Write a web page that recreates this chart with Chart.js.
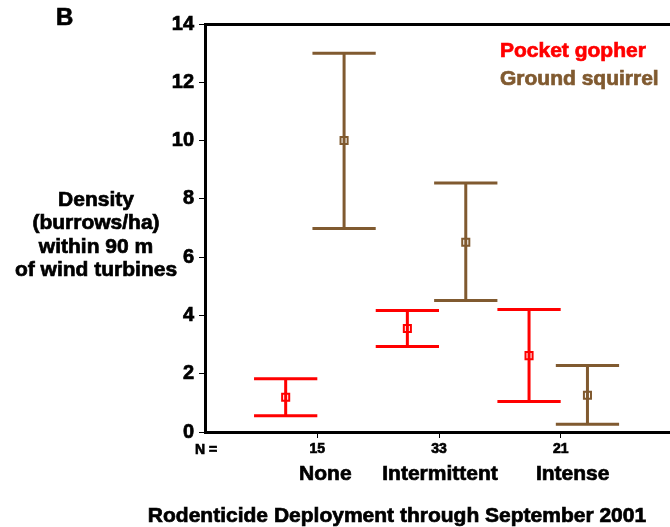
<!DOCTYPE html>
<html>
<head>
<meta charset="utf-8">
<script src="https://cdn.jsdelivr.net/npm/chart.js@4.4.1/dist/chart.umd.min.js"></script>
<style>
  html, body { margin: 0; padding: 0; background: #fff; overflow: hidden; }
  #wrap { width: 680px; height: 527px; }
</style>
</head>
<body>
<div id="wrap"><canvas id="chartId" width="680" height="527"></canvas></div>
<script>
// density of burrows per treatment

const categories = ['None', 'Intermittent', 'Intense'];
const sampleSizes = ['15', '33', '21'];
const yTicks = [0, 2, 4, 6, 8, 10, 12, 14];

const gopherMean = [1.19, 3.55, 2.62];
const gopherLow = [0.56, 2.93, 1.05];
const gopherHigh = [1.83, 4.17, 4.2];

const squirrelMean = [10.0, 6.51, 1.26];
const squirrelLow = [6.98, 4.51, 0.27];
const squirrelHigh = [13.0, 8.54, 2.28];

const RED = '#ff0000';
const BROWN = '#805a30';
const FONT = '"Liberation Sans", Arial, sans-serif';
const HEAVY = 0.7; // extra stroke so text looks as heavy as the original

// position of each group on the x scale (1, 2, 3) and series offsets
const groupPos = categories.map((c, i) => i + 1);
const gopherShift = -0.26;
const squirrelShift = 0.22;
const capHalf = 0.26;
const nameNudge = [8, 1, 12];

const points = (mean, low, high, shift) =>
  mean.map((m, i) => ({ x: groupPos[i] + shift, y: m, low: low[i], high: high[i] }));

const errorBars = {
  id: 'errorBars',
  beforeDatasetsDraw(chart) {
    const ctx = chart.ctx;
    const xs = chart.scales.x, ys = chart.scales.y;
    chart.data.datasets.forEach(ds => {
      ctx.save();
      ctx.strokeStyle = ds.borderColor;
      ctx.lineWidth = 3;
      ds.data.forEach(p => {
        const px = xs.getPixelForValue(p.x);
        const x0 = xs.getPixelForValue(p.x - capHalf);
        const x1 = xs.getPixelForValue(p.x + capHalf);
        const yl = ys.getPixelForValue(p.low);
        const yh = ys.getPixelForValue(p.high);
        ctx.beginPath();
        ctx.moveTo(px, yl); ctx.lineTo(px, yh);
        ctx.moveTo(x0, yl); ctx.lineTo(x1, yl);
        ctx.moveTo(x0, yh); ctx.lineTo(x1, yh);
        ctx.stroke();
      });
      ctx.restore();
    });
  }
};

function heavyText(ctx, t, x, y) {
  ctx.strokeStyle = ctx.fillStyle;
  ctx.lineWidth = HEAVY;
  ctx.strokeText(t, x, y);
  ctx.fillText(t, x, y);
}

const labels = {
  id: 'labels',
  afterDraw(chart) {
    const ctx = chart.ctx;
    const xs = chart.scales.x;
    const area = chart.chartArea;
    ctx.save();
    ctx.fillStyle = '#000';
    ctx.textBaseline = 'middle';

    ctx.textAlign = 'left';
    ctx.font = 'bold 24px ' + FONT;
    heavyText(ctx, 'B', 56, 18);

    // y axis title, horizontal
    ctx.textAlign = 'center';
    ctx.font = 'bold 21px ' + FONT;
    ['Density', '(burrows/ha)', 'within 90 m', 'of wind turbines'].forEach((t, i) => {
      heavyText(ctx, t, 96, 200 + i * 23.5);
    });

    // sample sizes row
    ctx.font = 'bold 14px ' + FONT;
    ctx.textAlign = 'left';
    heavyText(ctx, 'N =', 195, area.bottom + 18);

    // category names
    ctx.font = 'bold 21px ' + FONT;
    ctx.textAlign = 'center';
    categories.forEach((c, i) => {
      heavyText(ctx, c, xs.getPixelForValue(groupPos[i]) + nameNudge[i], area.bottom + 42);
    });

    ctx.font = 'bold 21px ' + FONT;
    heavyText(ctx, 'Rodenticide Deployment through September 2001', 397, area.bottom + 84);

    // legend inside plot
    ctx.textAlign = 'left';
    ctx.font = 'bold 21px ' + FONT;
    chart.data.datasets.forEach((ds, i) => {
      ctx.fillStyle = ds.borderColor;
      heavyText(ctx, ds.label, 500, 51 + i * 28);
    });
    ctx.restore();
  }
};

new Chart(document.getElementById('chartId').getContext('2d'), {
  type: 'scatter',
  data: {
    datasets: [
      {
        label: 'Pocket gopher',
        data: points(gopherMean, gopherLow, gopherHigh, gopherShift),
        borderColor: RED,
        backgroundColor: 'rgba(0,0,0,0)',
        pointStyle: 'rect',
        pointRadius: 5,
        borderWidth: 2
      },
      {
        label: 'Ground squirrel',
        data: points(squirrelMean, squirrelLow, squirrelHigh, squirrelShift),
        borderColor: BROWN,
        backgroundColor: 'rgba(0,0,0,0)',
        pointStyle: 'rect',
        pointRadius: 5,
        borderWidth: 2
      }
    ]
  },
  options: {
    responsive: false,
    animation: false,
    events: [],
    layout: { padding: { left: 0, right: 0, top: 24, bottom: 0 } },
    plugins: { legend: { display: false }, tooltip: { enabled: false } },
    scales: {
      x: {
        type: 'linear',
        position: 'bottom',
        min: 0.077,
        max: 3.923,
        afterBuildTicks: s => { s.ticks = groupPos.map(v => ({ value: v })); },
        afterFit: s => { s.height = 95; },
        ticks: {
          color: '#000',
          font: { family: FONT, size: 14, weight: 'bold' },
          textStrokeColor: '#000',
          textStrokeWidth: HEAVY,
          padding: 3,
          maxRotation: 0,
          callback: (v) => sampleSizes[groupPos.indexOf(v)] || ''
        },
        grid: { drawOnChartArea: false, drawTicks: true, tickLength: 6, color: '#000', lineWidth: 1 },
        border: { color: '#000', width: 3 }
      },
      xTop: {
        type: 'linear',
        position: 'top',
        min: 0.077,
        max: 3.923,
        ticks: { display: false },
        grid: { display: false, drawTicks: false },
        border: { color: '#000', width: 3 },
        afterFit: s => { s.height = 0; }
      },
      y: {
        min: 0,
        max: 14,
        afterBuildTicks: s => { s.ticks = yTicks.map(v => ({ value: v })); },
        afterFit: s => { s.width = 205; },
        ticks: {
          color: '#000',
          font: { family: FONT, size: 20, weight: 'bold' },
          textStrokeColor: '#000',
          textStrokeWidth: HEAVY,
          padding: 5
        },
        grid: { drawOnChartArea: false, drawTicks: true, tickLength: 6, color: '#000', lineWidth: 1 },
        border: { color: '#000', width: 3 }
      }
    }
  },
  plugins: [errorBars, labels]
});
</script>
</body>
</html>
